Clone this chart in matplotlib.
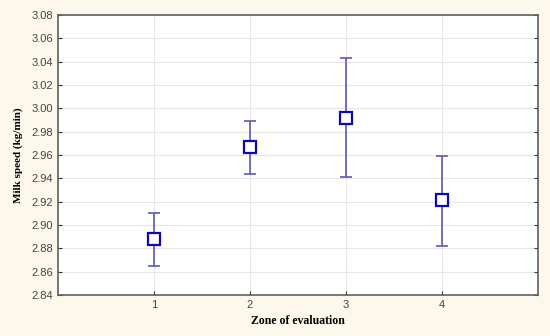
import matplotlib

matplotlib.use("Agg")
import matplotlib.pyplot as plt

zones = [1, 2, 3, 4]
means = [2.888, 2.967, 2.992, 2.921]
upper = [2.910, 2.989, 3.043, 2.959]
lower = [2.865, 2.944, 2.941, 2.882]
yticks = [2.84, 2.86, 2.88, 2.90, 2.92, 2.94, 2.96, 2.98, 3.00, 3.02, 3.04, 3.06, 3.08]

bg = "#fdf8ec"
fig = plt.figure(figsize=(5.5, 3.36), dpi=100, facecolor=bg)
ax = fig.add_axes([58 / 550, 1 - 295 / 336, 480 / 550, 280 / 336])
ax.set_facecolor("white")

err = [[m - lo for m, lo in zip(means, lower)], [hi - m for m, hi in zip(means, upper)]]
ax.errorbar(zones, means, yerr=err, fmt="none", ecolor="#5a5ab4", elinewidth=1.2,
            capsize=4, capthick=1.2, zorder=3)
ax.plot(zones, means, linestyle="none", marker="s", markersize=8,
        markerfacecolor="white", markeredgecolor="#0a0ab4", markeredgewidth=1.6, zorder=4)

ax.set_xlim(0, 5)
ax.set_ylim(2.84, 3.08)
ax.set_xticks(zones)
ax.set_yticks(yticks)
ax.set_yticklabels([f"{t:.2f}" for t in yticks])
ax.grid(True, color="#e6e6e6", linewidth=0.8)
ax.set_axisbelow(True)
ax.tick_params(direction="in", length=3, labelsize=8, colors="#333333",
               right=True, labelcolor="#444444")
for lab in ax.get_xticklabels() + ax.get_yticklabels():
    lab.set_family("Liberation Sans")
for s in ax.spines.values():
    s.set_color("#606060")
    s.set_linewidth(1.2)

ax.set_xlabel("Zone of evaluation", family="Liberation Serif", fontweight="bold",
              fontsize=8.5, labelpad=4)
ax.set_ylabel("Milk speed (kg/min)", family="Liberation Serif", fontweight="bold",
              fontsize=8, labelpad=6)

fig.savefig("out.png", dpi=100, facecolor=bg)
